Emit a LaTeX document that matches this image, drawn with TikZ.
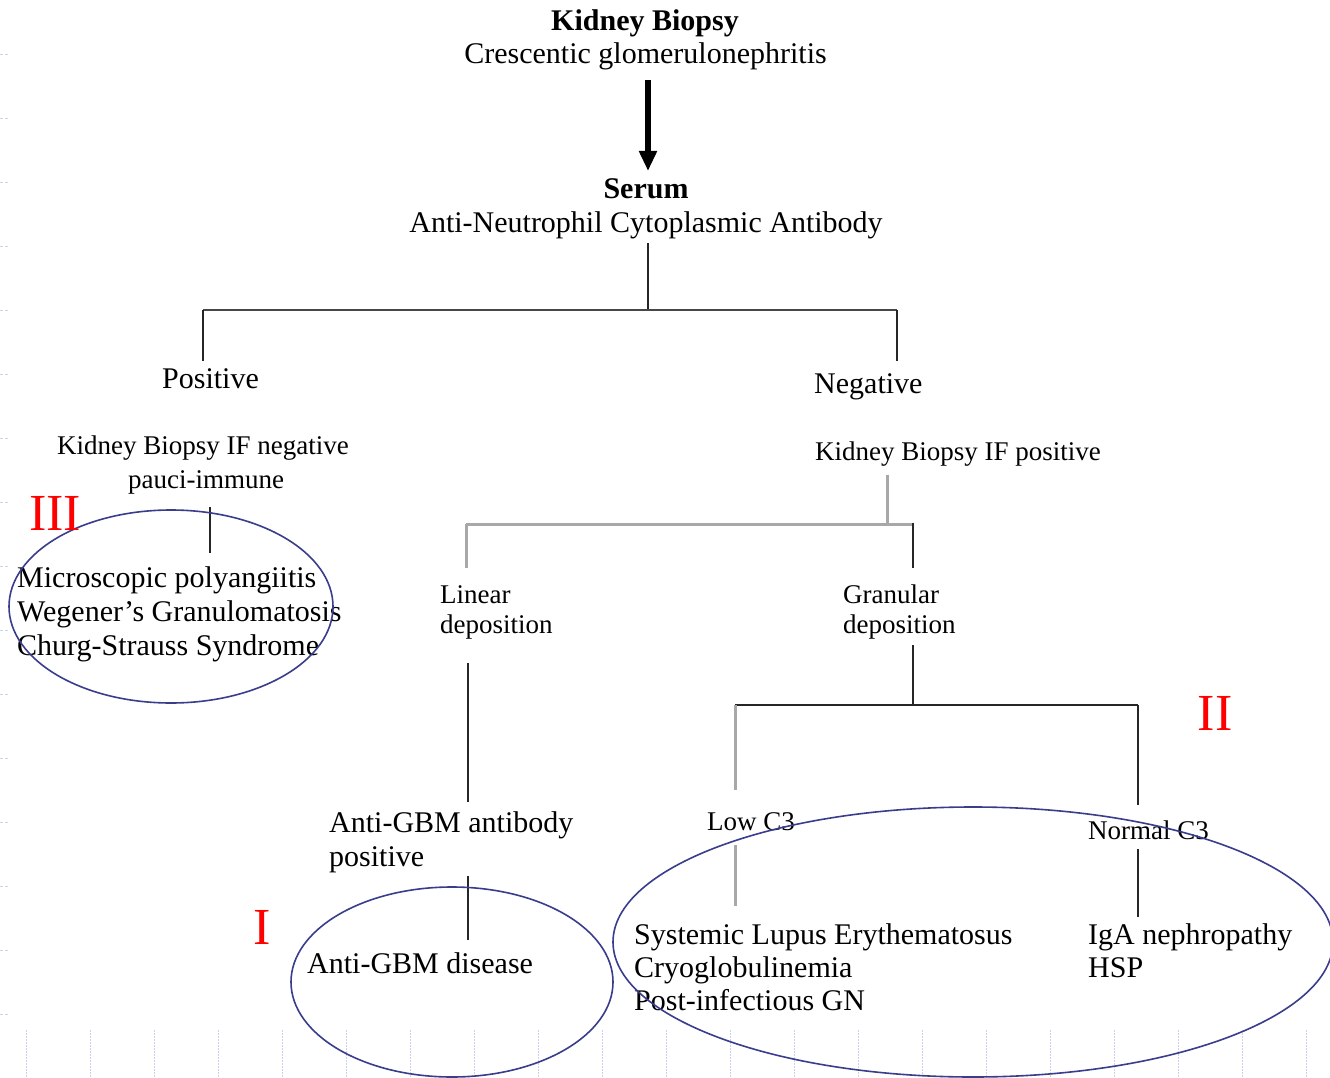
\documentclass[tikz,border=0pt]{standalone}
\usepackage{fontspec}
\setmainfont{Liberation Serif}
\usetikzlibrary{arrows.meta,shapes.geometric}
\definecolor{ringblue}{HTML}{3A3D8C}
\definecolor{treegray}{HTML}{A8A8A8}
\definecolor{inkline}{HTML}{262626}
\definecolor{gridblue}{HTML}{C9D3EE}
\begin{document}
\begin{tikzpicture}[x=1pt,y=-1pt,
  big/.style={font=\fontsize{30}{33}\selectfont, inner sep=0pt},
  bigbold/.style={font=\fontsize{30}{33}\selectfont\bfseries, inner sep=0pt},
  small/.style={font=\fontsize{27}{30}\selectfont, inner sep=0pt},
  roman/.style={font=\fontsize{52}{52}\selectfont, text=red, inner sep=0pt},
  link/.style={draw=inkline, line width=2.4pt},
  glink/.style={draw=treegray, line width=3pt},
  ring/.style={ellipse, draw=ringblue, line width=1.6pt, inner sep=0pt},
]
\useasboundingbox[fill=white] (0,0) rectangle (1330,1078);

% faint page guides
\foreach \k in {0,...,15}
  \draw[gridblue, line width=0.8pt, dash pattern=on 3pt off 2pt] (0,54+64*\k) -- (10,54+64*\k);
\foreach \k in {0,...,20}
  \draw[gridblue, line width=0.8pt, dash pattern=on 1.5pt off 1.5pt] (26+64*\k,1030) -- (26+64*\k,1078);

% top of the tree
\node[bigbold, anchor=base] (kb) at (645,31) {Kidney Biopsy};
\node[big, anchor=base] (cgn) at (645.5,64) {Crescentic glomerulonephritis};
\node[bigbold, anchor=base] (serum) at (646,199) {Serum};
\node[big, anchor=base] (anca) at (646,233) {Anti-Neutrophil Cytoplasmic Antibody};

\coordinate (arrA) at (648,80);
\coordinate (arrB) at (648,171);
\draw[draw=black, line width=6pt, -{Triangle[width=17pt,length=20pt]}] (arrA) -- (arrB);

% first split
\coordinate (ancaStem) at (648,243);
\coordinate (splitMid) at (648,310);
\coordinate (splitL) at (203,310);
\coordinate (splitR) at (897,310);
\coordinate (posTop) at (203,361);
\coordinate (negTop) at (897,361);
\draw[link] (ancaStem) -- (splitMid);
\draw[link, draw=inkline!85] (splitL) -- (splitR);
\draw[link] (splitL) -- (posTop);
\draw[link] (splitR) -- (negTop);

\node[big, anchor=base west] (pos) at (162,388) {Positive};
\node[big, anchor=base west] (neg) at (814,393) {Negative};

% ANCA positive branch
\node[small, anchor=base west] (ifneg) at (57,454) {Kidney Biopsy IF negative};
\node[small, anchor=base] (pauci) at (206,488) {pauci-immune};
\coordinate (pauciA) at (210,507);
\coordinate (pauciB) at (210,553);
\draw[link] (pauciA) -- (pauciB);

\node[big, anchor=base west] (mpa) at (17,587) {Microscopic polyangiitis};
\node[big, anchor=base west] (wg) at (17,621) {Wegener’s Granulomatosis};
\node[big, anchor=base west] (css) at (17,655) {Churg-Strauss Syndrome};
\node[ring, minimum width=324pt, minimum height=193pt] (ringIII) at (171,606.5) {};
\node[roman] (labIII) at (55,513) {III};

% ANCA negative branch
\node[small, anchor=base west] (ifpos) at (815,460) {Kidney Biopsy IF positive};
\coordinate (ifposA) at (887,475);
\coordinate (ifposB) at (887,524);
\coordinate (depL) at (466,524);
\coordinate (depR) at (913,524);
\coordinate (linTop) at (466,568);
\coordinate (granTop) at (913,568);
\draw[glink] (ifposA) -- (ifposB);
\draw[glink] (depL) -- (depR);
\draw[glink] (depL) -- (linTop);
\draw[link] (913,522.8) -- (granTop);

\node[small, anchor=base west] (lin1) at (440,603) {Linear};
\node[small, anchor=base west] (lin2) at (440,633) {deposition};
\node[small, anchor=base west] (gran1) at (843,603) {Granular};
\node[small, anchor=base west] (gran2) at (843,633) {deposition};

% linear deposition
\coordinate (linA) at (468,663);
\coordinate (linB) at (468,802);
\draw[link] (linA) -- (linB);
\node[big, anchor=base west] (gbm1) at (329,832) {Anti-GBM antibody};
\node[big, anchor=base west] (gbm2) at (329,866) {positive};
\coordinate (gbmA) at (468,876);
\coordinate (gbmB) at (468,940);
\draw[link] (gbmA) -- (gbmB);
\node[big, anchor=base west] (gbmd) at (307,973) {Anti-GBM disease};
\node[ring, minimum width=322pt, minimum height=190pt] (ringI) at (452,982) {};
\node[roman] (labI) at (262,927) {I};

% granular deposition
\coordinate (granA) at (913,645);
\coordinate (granB) at (913,705);
\coordinate (c3L) at (735,705);
\coordinate (c3R) at (1138,705);
\coordinate (lowTop) at (735,790);
\coordinate (normTop) at (1138,805);
\draw[link] (granA) -- (granB);
\draw[link] (c3L) -- (c3R);
\draw[glink] (c3L) -- (lowTop);
\draw[link] (c3R) -- (normTop);

\node[small, anchor=base west] (low) at (707,830) {Low C3};
\node[small, anchor=base west] (norm) at (1088,839) {Normal C3};
\coordinate (lowA) at (735,845);
\coordinate (lowB) at (735,906);
\coordinate (normA) at (1138,849);
\coordinate (normB) at (1138,917);
\draw[glink] (lowA) -- (lowB);
\draw[link] (normA) -- (normB);

\node[big, anchor=base west] (sle) at (634,944) {Systemic Lupus Erythematosus};
\node[big, anchor=base west] (cryo) at (634,977) {Cryoglobulinemia};
\node[big, anchor=base west] (pign) at (634,1010) {Post-infectious GN};
\node[big, anchor=base west] (iga) at (1088,944) {IgA nephropathy};
\node[big, anchor=base west] (hsp) at (1088,977) {HSP};
\node[ring, minimum width=720pt, minimum height=270pt] (ringII) at (973,942) {};
\node[roman] (labII) at (1215,713) {II};
\end{tikzpicture}
\end{document}
